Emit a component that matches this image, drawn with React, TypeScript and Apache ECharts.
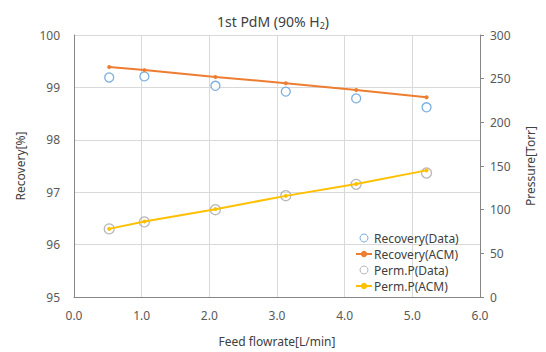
import React, { useEffect, useRef } from "react";
import * as echarts from "echarts";

const flowrate = [0.52, 1.04, 2.09, 3.13, 4.17, 5.21];
const recoveryData = [99.19, 99.21, 99.03, 98.92, 98.79, 98.62];
const recoveryACM = [99.39, 99.33, 99.2, 99.08, 98.95, 98.81];
const permPData = [78, 86, 100, 116, 129, 142];
const permPACM = [78, 86.5, 100.6, 115.8, 129.5, 145];
const seriesNames = ["Recovery(Data)", "Recovery(ACM)", "Perm.P(Data)", "Perm.P(ACM)"];

const FONT = "Noto Sans";

export default function App() {
  const ref = useRef<HTMLDivElement>(null);
  useEffect(() => {
    if (!ref.current) return;
    const chart = echarts.init(ref.current, undefined, { renderer: "svg" });
    const pair = (ys: number[]) => flowrate.map((x, i) => [x, ys[i]]);
    const labelStyle = { color: "#595959", fontSize: 12, fontFamily: FONT };
    chart.setOption({
      animation: false,
      backgroundColor: "#ffffff",
      title: {
        text: "{a|1st PdM (90% H}{s|2}{a|)}",
        left: "center",
        top: 6,
        textStyle: {
          fontWeight: "normal",
          rich: {
            a: { fontSize: 14, fontWeight: "normal", color: "#404040", fontFamily: FONT, lineHeight: 20 },
            s: { fontSize: 9, fontWeight: "normal", color: "#404040", fontFamily: FONT, lineHeight: 20, padding: [8, 0, 0, 0] },
          },
        },
      },
      grid: { left: 74, right: 66, top: 35, bottom: 54 },
      legend: {
        orient: "vertical",
        left: 350,
        top: 227,
        itemGap: 4,
        itemWidth: 16,
        itemHeight: 8,
        data: [
          { name: seriesNames[0], icon: "circle", itemStyle: { borderWidth: 1, color: "#ffffff", borderColor: "#5b9bd5" } },
          { name: seriesNames[1] },
          { name: seriesNames[2], icon: "circle", itemStyle: { borderWidth: 1, color: "#ffffff", borderColor: "#a5a5a5" } },
          { name: seriesNames[3] },
        ],
        textStyle: { color: "#404040", fontSize: 12, fontFamily: FONT, padding: [0, 0, 0, -3] },
      },
      xAxis: {
        type: "value",
        min: 0,
        max: 6,
        interval: 1,
        name: "Feed flowrate[L/min]",
        nameLocation: "middle",
        nameGap: 38,
        nameTextStyle: { color: "#404040", fontSize: 12, fontFamily: FONT },
        axisLine: { show: true, lineStyle: { color: "#868686", width: 1 } },
        axisTick: { show: false },
        axisLabel: { ...labelStyle, margin: 12, formatter: (v: number) => v.toFixed(1) },
        splitLine: { show: true, lineStyle: { color: "#d9d9d9", width: 1 } },
      },
      yAxis: [
        {
          type: "value",
          min: 95,
          max: 100,
          interval: 1,
          name: "Recovery[%]",
          nameLocation: "middle",
          nameGap: 48,
          nameTextStyle: { color: "#404040", fontSize: 12, fontFamily: FONT },
          axisLine: { show: true, lineStyle: { color: "#868686", width: 1 } },
          axisTick: { show: false },
          axisLabel: { ...labelStyle, margin: 14 },
          splitLine: { show: true, lineStyle: { color: "#d9d9d9", width: 1 } },
        },
        {
          type: "value",
          min: 0,
          max: 300,
          interval: 50,
          name: "Pressure[Torr]",
          nameLocation: "middle",
          nameGap: 44,
          nameTextStyle: { color: "#404040", fontSize: 12, fontFamily: FONT },
          axisLine: { show: true, lineStyle: { color: "#868686", width: 1 } },
          axisTick: { show: true, length: 4, lineStyle: { color: "#868686" } },
          axisLabel: { ...labelStyle, margin: 10 },
          splitLine: { show: false },
        },
      ],
      series: [
        {
          name: seriesNames[0],
          type: "scatter",
          yAxisIndex: 0,
          data: pair(recoveryData),
          symbol: "circle",
          symbolSize: 9,
          itemStyle: { color: "#ffffff", borderColor: "#5b9bd5", borderWidth: 1.3 },
        },
        {
          name: seriesNames[1],
          type: "line",
          yAxisIndex: 0,
          data: pair(recoveryACM),
          symbol: "circle",
          symbolSize: 4,
          lineStyle: { color: "#ed7d31", width: 2 },
          itemStyle: { color: "#ed7d31" },
        },
        {
          name: seriesNames[2],
          type: "scatter",
          yAxisIndex: 1,
          data: pair(permPData),
          symbol: "circle",
          symbolSize: 10,
          itemStyle: { color: "rgba(255,255,255,0)", borderColor: "#a5a5a5", borderWidth: 1.3 },
        },
        {
          name: seriesNames[3],
          type: "line",
          yAxisIndex: 1,
          data: pair(permPACM),
          symbol: "circle",
          symbolSize: 4,
          lineStyle: { color: "#ffc000", width: 2 },
          itemStyle: { color: "#ffc000" },
        },
      ],
    });
    return () => chart.dispose();
  }, []);
  return <div ref={ref} style={{ width: 546, height: 352, position: "absolute", left: 0, top: 0 }} />;
}
